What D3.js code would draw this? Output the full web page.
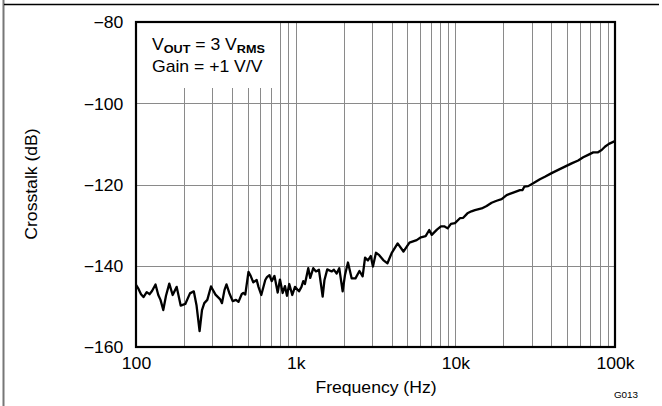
<!DOCTYPE html>
<html><head><meta charset="utf-8">
<script src="https://cdn.jsdelivr.net/npm/d3@7"></script>
<style>
html,body{margin:0;padding:0;background:#fff;}
text{font-family:"Liberation Sans",Arial,Helvetica,sans-serif;fill:#000;}
</style></head>
<body>
<svg id="chart" width="662" height="406"></svg>
<script>
const freqHz = [100,103.7,107.5,111.4,116.7,121.5,126,132.5,137.9,142.4,148.2,154.1,161.6,169.7,179.8,190.5,203.6,217.8,230.1,239.3,250.2,259,267.7,279.6,294.9,314.7,335.7,345.6,358.2,368.7,383.9,403.2,422.9,438.4,459.1,469.8,483.5,506.3,522.6,542.6,569.9,584.9,609,645.1,661.1,685.4,707.5,736.6,771.4,797.4,829.1,857.1,882.2,911.9,952.2,990,1049,1087,1116,1143,1199,1234,1289,1340,1399,1476,1515,1577,1680,1737,1806,1875,1969,2036,2126,2242,2369,2509,2627,2720,2836,2953,3048,3183,3338,3536,3757,3991,4352,4732,5160,5724,6089,6516,6864,7116,7669,8124,8520,8949,9386,9942,10686,11207,11906,12613,13266,14611,15705,16880,18144,19500,20960,23050,25380,26310,27080,28610,30750,33860,36390,40090,44100,48580,53500,58830,63220,67940,73020,77840,82460,86470,91590,97470,100000];
const crosstalkDb = [-144.7,-145.7,-147.0,-147.7,-146.5,-147.0,-146.2,-144.6,-147.2,-148.4,-150.9,-147.4,-144.4,-147.2,-145.2,-149.8,-149.4,-146.8,-146.3,-149.7,-156.1,-150.9,-149.2,-148.4,-145.1,-147.1,-148.2,-149.2,-146.0,-144.6,-146.7,-148.7,-148.4,-148.9,-147.0,-146.7,-147.1,-141.5,-142.5,-144.1,-143.5,-145.2,-147.2,-143.5,-142.8,-142.3,-143.8,-142.5,-146.6,-143.4,-146.7,-145.0,-147.4,-144.5,-147.2,-145.2,-146.3,-145.2,-143.8,-144.5,-140.6,-143.0,-140.6,-141.4,-141.0,-147.6,-143.5,-140.9,-141.4,-141.0,-141.9,-140.6,-146.3,-142.3,-139.2,-143.1,-143.1,-141.3,-142.6,-138.0,-138.7,-137.6,-140.2,-136.8,-137.4,-138.6,-139.4,-136.9,-134.5,-136.5,-134.3,-133.7,-133.0,-132.7,-131.2,-132.4,-131.1,-130.3,-130.3,-130.8,-129.7,-129.5,-128.3,-128.2,-127.1,-126.6,-126.3,-125.9,-125.3,-124.5,-124.0,-123.6,-122.6,-122.0,-121.4,-121.4,-120.5,-120.4,-119.7,-118.7,-118.1,-117.2,-116.4,-115.6,-114.8,-114.1,-113.3,-112.7,-112.1,-112.1,-111.5,-110.7,-110.0,-109.5,-109.3];
const xTickValues = [100,1000,10000,100000];
const xTickLabels = ["100","1k","10k","100k"];
const yTickValues = [-160,-140,-120,-100,-80];
const yTickLabels = ["\u2212160","\u2212140","\u2212120","\u2212100","\u221280"];
const xTitle = "Frequency (Hz)";
const yTitle = "Crosstalk (dB)";
const figId = "G013";

const svg = d3.select("#chart");
const L = 136, R = 615, T = 22, B = 347;
const SX = 1.1; // horizontal stretch of the lettering
const x = d3.scaleLog().domain([100, 100000]).range([L, R]);
const y = d3.scaleLinear().domain([-160, -80]).range([B, T]);

// outer frame pieces
svg.append("line").attr("x1",3.5).attr("x2",3.5).attr("y1",0).attr("y2",406)
  .attr("stroke","#777").attr("stroke-width",2);
svg.append("line").attr("x1",4).attr("x2",659).attr("y1",4.5).attr("y2",4.5)
  .attr("stroke","#000").attr("stroke-width",1.5);

// grid
const minor = [];
for (let d = 100; d < 100000; d *= 10) for (let k = 2; k <= 9; k++) minor.push(d*k);
minor.push(1000, 10000);
const grid = svg.append("g").attr("stroke","#8a8a8a").attr("stroke-width",1);
grid.selectAll("line.v").data(minor).join("line")
  .attr("x1", d => Math.round(x(d))+0.5).attr("x2", d => Math.round(x(d))+0.5)
  .attr("y1", d => (d < 800) ? 88 : T).attr("y2", B);
grid.selectAll("line.h").data([-140,-120,-100]).join("line")
  .attr("y1", d => Math.round(y(d))+0.5).attr("y2", d => Math.round(y(d))+0.5)
  .attr("x1", L).attr("x2", R);

// axes
const xAxis = svg.append("g").attr("transform", `translate(0,${B})`)
  .call(d3.axisBottom(x).tickValues(xTickValues).tickSize(0)
    .tickFormat((d,i) => xTickLabels[i]));
xAxis.select(".domain").remove();
xAxis.selectAll("text").attr("y", 22.5).attr("dy", null)
  .attr("font-size", 16).attr("font-family", null)
  .attr("transform", `scale(${SX},1)`);

const yAxis = svg.append("g").attr("transform", `translate(${L},0)`)
  .call(d3.axisLeft(y).tickValues(yTickValues).tickSize(0)
    .tickFormat((d,i) => yTickLabels[i]));
yAxis.select(".domain").remove();
yAxis.selectAll("text").attr("x", -12.7/SX).attr("dy", 5.8)
  .attr("font-size", 16).attr("font-family", null)
  .attr("transform", `scale(${SX},1)`);

// curve
const line = d3.line().x((d,i) => x(freqHz[i])).y(d => y(d));
svg.append("path").datum(crosstalkDb).attr("d", line)
  .attr("fill","none").attr("stroke","#000").attr("stroke-width",2.3)
  .attr("stroke-linejoin","round");

// plot frame
svg.append("rect").attr("x",L).attr("y",T).attr("width",R-L).attr("height",B-T)
  .attr("fill","none").attr("stroke","#000").attr("stroke-width",2.2);

// annotation
const ann = svg.append("g").attr("transform", `translate(152,50) scale(${SX},1)`);
const t1 = ann.append("text").attr("font-size",16);
t1.append("tspan").text("V");
t1.append("tspan").text("OUT").attr("font-size",11.5).attr("font-weight","bold").attr("dy",3);
t1.append("tspan").text(" = 3 V").attr("dy",-3);
t1.append("tspan").text("RMS").attr("font-size",11.5).attr("font-weight","bold").attr("dy",3);
ann.append("text").attr("y",22.5).attr("font-size",16).text("Gain = +1 V/V");

// titles
svg.append("text").attr("transform", `translate(376,393) scale(${SX},1)`)
  .attr("text-anchor","middle").attr("font-size",16).text(xTitle);
svg.append("text").attr("transform", `translate(37,184) rotate(-90) scale(${SX},1)`)
  .attr("text-anchor","middle").attr("font-size",16).text(yTitle);
svg.append("text").attr("transform", `translate(626,398) scale(${SX},1)`)
  .attr("text-anchor","middle").attr("font-size",9).text(figId);
</script>
</body></html>
